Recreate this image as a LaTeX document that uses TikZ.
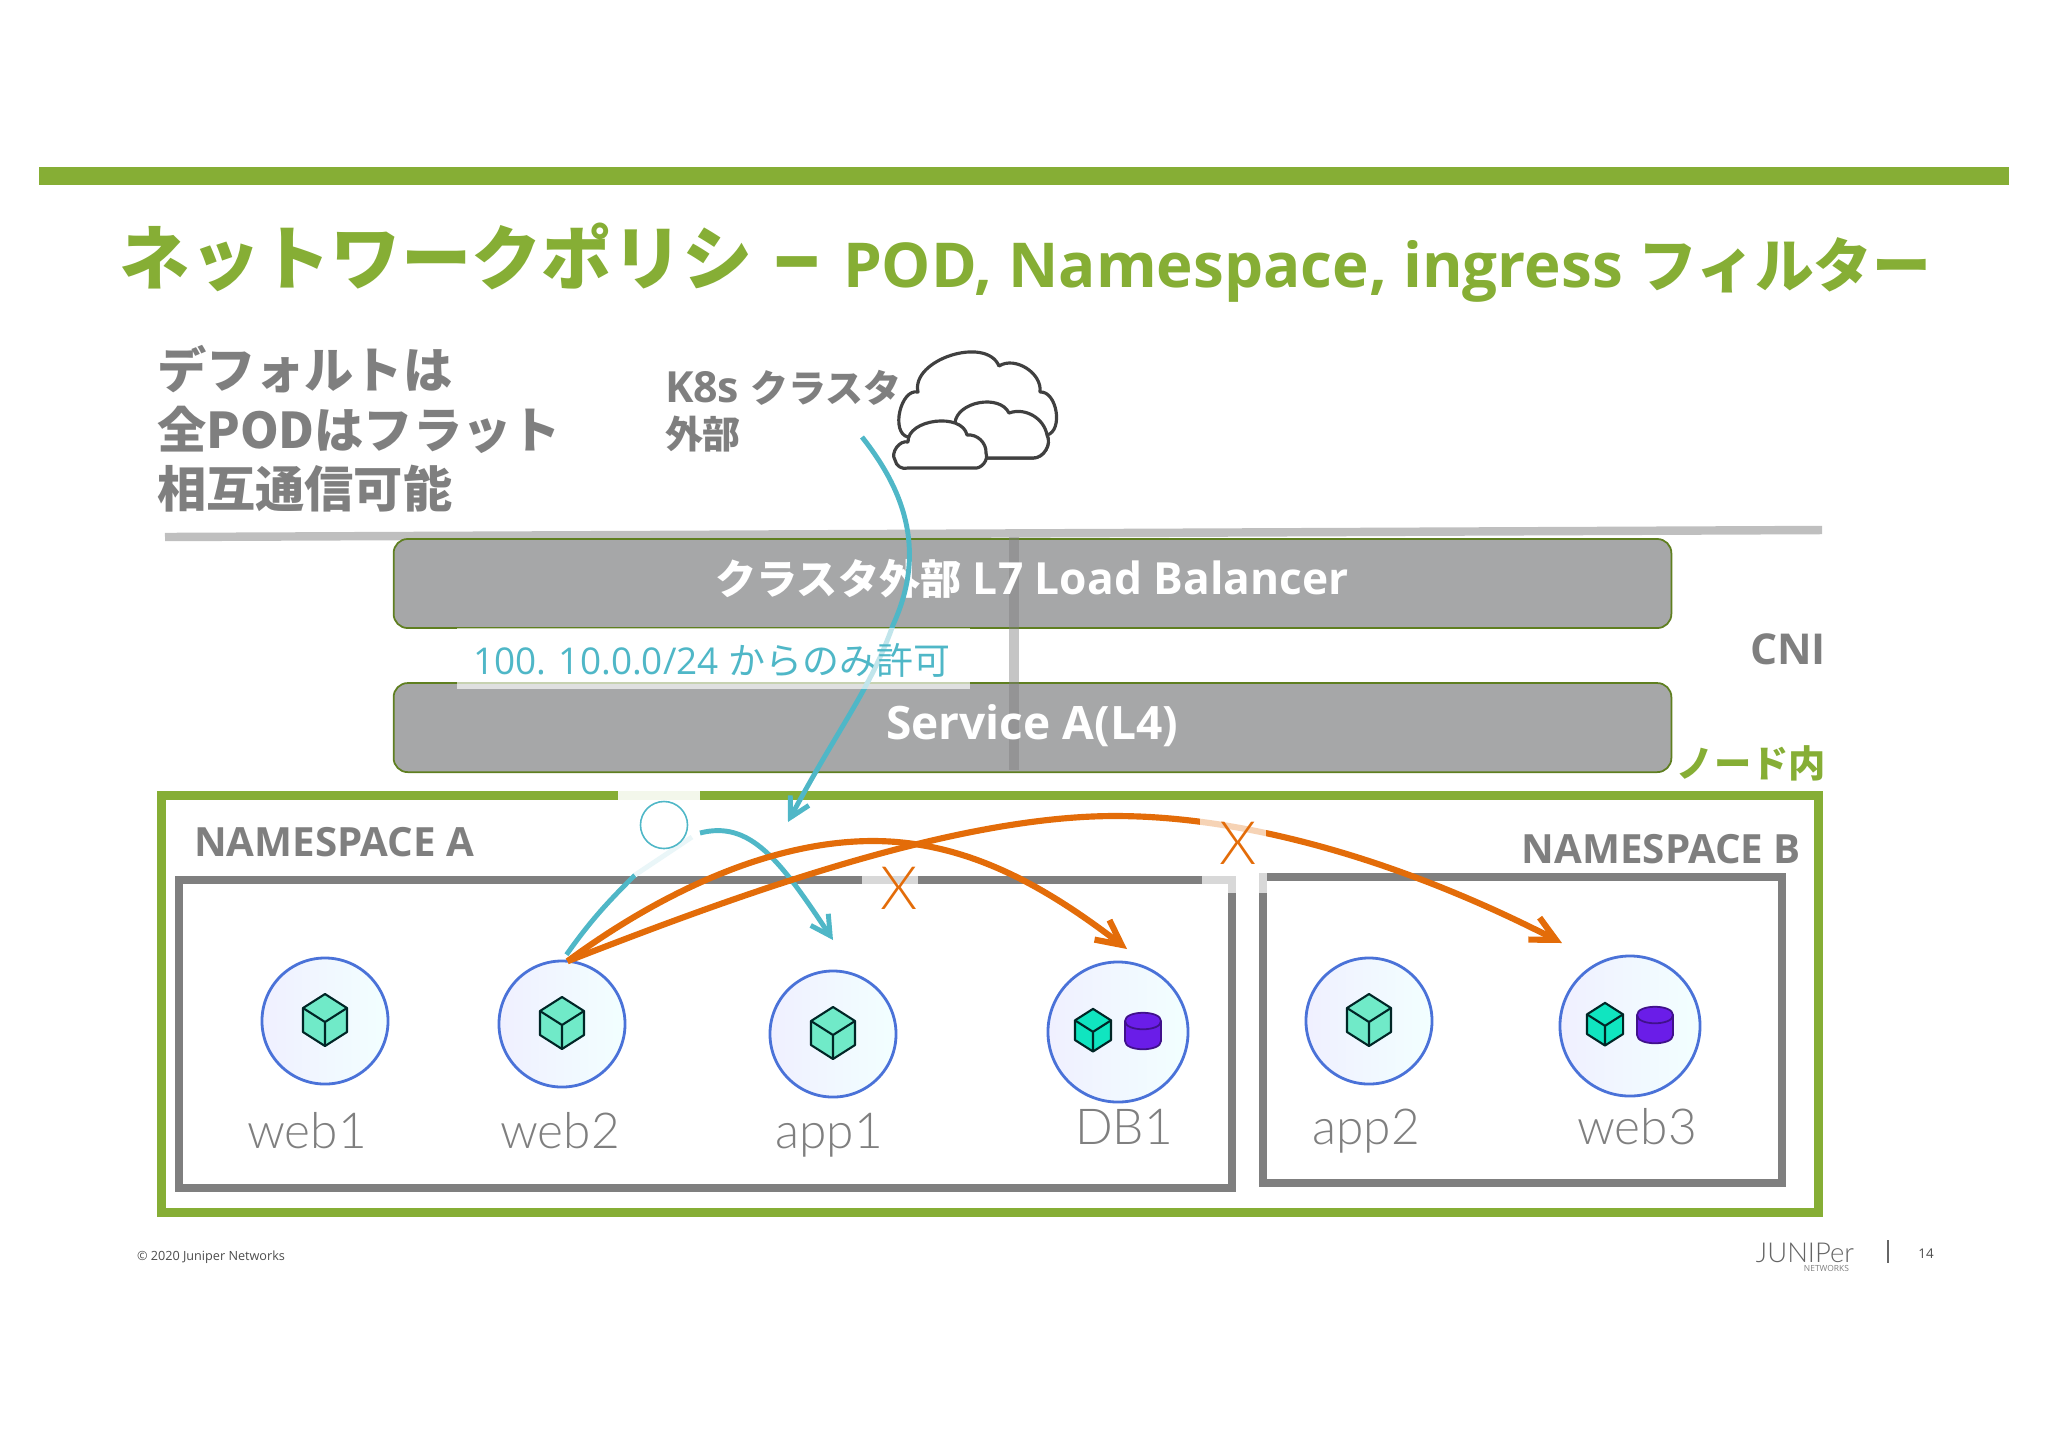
\documentclass[tikz,border=0pt]{standalone}
\usepackage{fontspec}
\setmainfont{Open Sans}
\newfontfamily\jp{Noto Sans CJK JP}
\newfontfamily\thinfont{Lato}[UprightFont=* Light]
\usetikzlibrary{arrows.meta}
\usetikzlibrary{positioning}
\definecolor{nodegreen}{HTML}{86AE35}
\definecolor{textgray}{HTML}{7F7F7F}
\definecolor{boxgray}{HTML}{A6A7A8}
\definecolor{boxedge}{HTML}{5F7F20}
\definecolor{allowteal}{HTML}{4FB7C7}
\definecolor{denyorange}{HTML}{E36C09}
\definecolor{podedge}{HTML}{4A72D8}
\definecolor{cubemint}{HTML}{70EAC8}
\definecolor{cubesea}{HTML}{10E5C0}
\definecolor{dbpurple}{HTML}{6A1DE8}
\tikzset{
    txt/.style={
           inner sep=0pt,
           outer sep=0pt,
           },
    bar/.style={
           rectangle,
           rounded corners=4pt,
           draw=boxedge, line width=0.5pt,
           fill=boxgray,
           outer sep=0pt,
           minimum width=12.77cm,
           minimum height=0.89cm,
           },
    nsbox/.style={
           rectangle,
           draw=textgray, line width=2.3pt,
           inner sep=0pt,
           outer sep=0pt,
           },
    pod/.style={
           circle,
           draw=podedge, line width=0.8pt,
           left color=blue!6,
           right color=cyan!5,
           inner sep=0pt,
           outer sep=0pt,
           minimum size=1.26cm,
           },
    bigpod/.style={
           pod,
           minimum size=1.40cm,
           },
    podname/.style={
           txt,
           text=textgray,
           font=\thinfont\fontsize{14.1}{16}\selectfont,
           },
    nsname/.style={
           txt,
           text=textgray,
           font=\bfseries\fontsize{11.45}{14}\selectfont,
           },
    gap/.style={
           fill=white,
           fill opacity=0.7,
           draw=none,
           },
    allow/.style={
           draw=allowteal,
           line width=1.4pt,
           },
    deny/.style={
           draw=denyorange,
           line width=1.75pt,
           -{Straight Barb[length=7pt,width=7pt]},
           },
    nomark/.style={
           txt,
           text=denyorange,
           font=\thinfont\fontsize{17}{20}\selectfont,
           },
    pics/podcube/.style={
           code={
           \draw[line width=0.6pt,draw=black!70!teal,fill=#1,line join=round]
              (0,-27)--(22,-13)--(22,11)--(0,25)--(-22,11)--(-22,-13)--cycle;
           \draw[line width=0.6pt,draw=black!70!teal,line join=round]
              (-22,-13)--(0,1)--(22,-13) (0,1)--(0,25);
           }
           },
    pics/poddb/.style={
           code={
           \draw[line width=0.5pt,draw=dbpurple!60!black,fill=dbpurple]
              (-18,-10)--(-18,10) .. controls (-18,21) and (18,21) .. (18,10)
              --(18,-10) .. controls (18,-21) and (-18,-21) .. (-18,-10)--cycle;
           \draw[line width=0.5pt,draw=dbpurple!60!black]
              (-18,-10) .. controls (-18,1) and (18,1) .. (18,-10);
           }
           },
}

\begin{document}
\begin{tikzpicture}[x=0.01cm,y=-0.01cm]
\useasboundingbox (0,0) rectangle (2048,1447);
% top of the slide
\fill[nodegreen] (39,167) rectangle (2009,185);
\node[txt,anchor=west,text=nodegreen,font=\jp\bfseries\fontsize{20}{24}\selectfont](title) at (120,257){ネットワークポリシ};
\node[txt,anchor=west,text=nodegreen,font=\bfseries\fontsize{27}{30}\selectfont](dash) at (773,272){–};
\node[txt,anchor=west,text=nodegreen,font=\bfseries\fontsize{17.6}{20}\selectfont](subtitle) at (843,270){POD, Namespace, ingress {\jp\fontsize{16.7}{20}\selectfont フィルター}};
\node[txt,anchor=north west,align=left,text=textgray,font=\jp\bfseries\fontsize{14}{17}\selectfont](flat) at (157,345){デフォルトは\\全PODはフラット\\相互通信可能};
\node[txt,anchor=north west,align=left,text=textgray,font=\bfseries\fontsize{12.2}{13}\selectfont](outside) at (665,370){K8s {\jp\fontsize{10.8}{13}\selectfont クラスタ}\\{\jp\fontsize{10.8}{13}\selectfont 外部}};
% cloud
\draw[line width=0.9pt,draw=black!75,fill=white,line join=round]
  (908,437) to[bend left=90] (918,392) to[bend left=85] (999,366) to[bend left=65] (1040,392)
  to[bend left=85] (1047,435) to[bend left=60] (1033,458) -- (960,458) -- (908,437);
\draw[line width=0.9pt,draw=black!75,fill=white,line join=round]
  (950,458) -- (955,423) to[bend left=75] (1009,413) to[bend left=50] (1047,435) to[bend left=60] (1033,458) -- cycle;
\draw[line width=0.9pt,draw=black!75,fill=white,line join=round]
  (895,460) to[bend left=70] (908,442) to[bend left=85] (967,435) to[bend left=50] (986,453)
  to[bend left=60] (974,468) -- (908,468) to[bend left=50] (895,460);
% cluster line
\coordinate (edgeL) at (165,537);
\coordinate (edgeR) at (1822,530);
\draw[line width=2.4pt,draw=black!25] (edgeL)--(edgeR);
% bars
\node[bar](lb) at (1032.5,583.5){};
\node[bar,below = 0.55cm of lb](svc){};
\coordinate (cniT) at (1014,537);
\coordinate (cniB) at (1014,770);
\draw[line width=2.8pt,draw=textgray,draw opacity=0.45] (cniT)--(cniB);
\node[txt,text=white,font=\bfseries\fontsize{12.6}{15}\selectfont](lbname) at (1032,579){{\jp\fontsize{11.7}{15}\selectfont クラスタ外部} L7 Load Balancer};
\node[txt,text=white,font=\bfseries\fontsize{13.1}{15}\selectfont](svcname) at (1032,726){Service A(L4)};
\node[txt,anchor=east,text=textgray,font=\bfseries\fontsize{12.1}{14}\selectfont](cni) at (1826,649){CNI};
\node[txt,anchor=east,text=nodegreen,font=\jp\bfseries\fontsize{10.6}{13}\selectfont](inside) at (1826,763){ノード内};
% node frame and namespaces
\node[rectangle,draw=nodegreen,line width=2.56pt,inner sep=0pt,outer sep=0pt,minimum width=16.56cm,minimum height=4.16cm](frame) at (990,1004){};
\node[nsbox,minimum width=10.53cm,minimum height=3.07cm](nsA) at (705.5,1034){};
\node[nsbox,minimum width=5.19cm,minimum height=3.06cm](nsB) at (1522.5,1030){};
\fill[gap,fill opacity=0.9] (618,789) rectangle (700,801);
\fill[gap] (862,875) rectangle (918,887);
\fill[gap] (1202,875) rectangle (1237,887);
\fill[gap] (1227,887) rectangle (1237,893);
\fill[gap] (1258,871) rectangle (1267,893);
\node[nsname,anchor=west](nsAname) at (194,842){NAMESPACE A};
\node[nsname,anchor=east](nsBname) at (1801,849){NAMESPACE B};
% pods
\node[pod](web1) at (325,1021){};
\node[pod](web2) at (562,1024){};
\node[pod](app1) at (833,1034){};
\node[bigpod](db1) at (1118,1032){};
\node[pod](app2) at (1369,1021){};
\node[bigpod](web3) at (1630,1026){};
\pic at (web1) {podcube=cubemint};
\pic at (web2) {podcube=cubemint};
\pic at (app1) {podcube=cubemint};
\pic at (app2) {podcube=cubemint};
\pic[scale=0.82] at (1093,1031) {podcube=cubesea};
\pic at (1143,1031) {poddb};
\pic[scale=0.82] at (1605,1025) {podcube=cubesea};
\pic at (1655,1025) {poddb};
\node[podname](web1name) at (307,1131){web1};
\node[podname](web2name) at (560,1131){web2};
\node[podname](app1name) at (829,1135){app1};
\node[podname](db1name) at (1124,1127){DB1};
\node[podname](app2name) at (1366,1131){app2};
\node[podname](web3name) at (1637,1127){web3};
% teal flow from outside
\coordinate (cloudout) at (862,437);
\coordinate (podzone) at (788,822);
\draw[allow,-{Straight Barb[length=5.5pt,width=6pt]}] (cloudout) .. controls (908,495) and (925,555) .. (893,625) .. controls (870,690) and (840,725) .. (podzone);
\fill[gap,fill opacity=0.65] (457,628) rectangle (970,689);
\node[txt,anchor=west,text=allowteal,font=\fontsize{10.5}{13}\selectfont](allowed) at (473,660){100. 10.0.0/24 {\jp からのみ許可}};
% teal flow between pods
\coordinate (fadeA) at (635,875);
\coordinate (fadeB) at (692,837);
\coordinate (gateout) at (700,833);
\coordinate (app1in) at (833,940);
\draw[allow,shorten <=2.2pt] (web2.north) to[bend left=5] (fadeA);
\draw[allow,draw=allowteal!12] (fadeA) -- (fadeB);
\node[circle,draw=allowteal,line width=0.45pt,fill=white,inner sep=0pt,minimum size=0.47cm](gate) at (664,825){};
\draw[allow,-{Straight Barb[length=5.5pt,width=6pt]}] (gateout) .. controls (750,820) and (780,860) .. (app1in);
% orange flows
\coordinate (db1in) at (1127,949);
\coordinate (web3in) at (1562,943);
\coordinate (top1) at (873,841);
\coordinate (top2) at (1115,816);
\draw[deny] (web2.85) .. controls (660,893) and (770,841) .. (top1) .. controls (970,841) and (1050,890) .. (db1in);
\draw[deny] (web2.85) .. controls (730,898) and (950,816) .. (top2) .. controls (1260,816) and (1420,870) .. (web3in);
\fill[gap] (1200,812) rectangle (1266,838);
\node[nomark](no1) at (899,888){X};
\node[nomark](no2) at (1238,843){X};
% footer
\node[txt,anchor=west,text=black!70,font=\fontsize{3.6}{5}\selectfont](copy) at (137,1257){© 2020 Juniper Networks};
\node[txt,text=textgray!80!black,font=\thinfont\fontsize{7.8}{9}\selectfont](logo) at (1805,1253){JUNIPer};
\node[txt,anchor=east,text=textgray,font=\fontsize{2.4}{3}\selectfont](logosub) at (1849,1268){NETWORKS};
\coordinate (sepT) at (1888,1240);
\coordinate (sepB) at (1888,1263);
\draw[line width=0.4pt,draw=black!60] (sepT)--(sepB);
\node[txt,text=black!70,font=\fontsize{3.8}{5}\selectfont](pageno) at (1926,1254){14};
\end{tikzpicture}
\end{document}
